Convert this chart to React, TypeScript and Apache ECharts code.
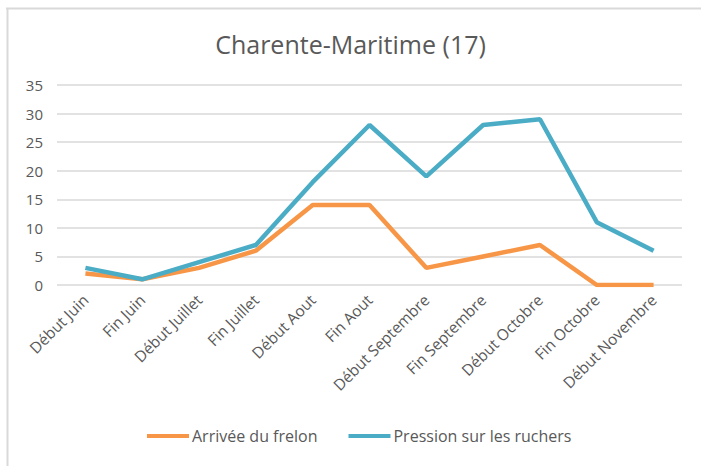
import React, { useEffect, useRef } from "react";
import * as echarts from "echarts";

const categories = [
  "Début Juin",
  "Fin Juin",
  "Début Juillet",
  "Fin Juillet",
  "Début Aout",
  "Fin Aout",
  "Début Septembre",
  "Fin Septembre",
  "Début Octobre",
  "Fin Octobre",
  "Début Novembre",
];
const arriveeFrelon = [2, 1, 3, 6, 14, 14, 3, 5, 7, 0, 0];
const pressionRuchers = [3, 1, 4, 7, 18, 28, 19, 28, 29, 11, 6];
const seriesNames = ["Arrivée du frelon", "Pression sur les ruchers"];
const titleText = "Charente-Maritime (17)";

const FONT = "'Open Sans', 'Noto Sans', sans-serif";

export default function App() {
  const ref = useRef<HTMLDivElement>(null);
  useEffect(() => {
    if (!ref.current) return;
    const chart = echarts.init(ref.current, null, { renderer: "svg" });
    chart.setOption({
      animation: false,
      backgroundColor: "#ffffff",
      title: {
        text: titleText,
        left: "center",
        top: 26,
        textStyle: {
          fontFamily: FONT,
          fontSize: 25,
          fontWeight: "normal",
          color: "#595959",
        },
      },
      legend: {
        bottom: 17,
        left: 142,
        icon: "rect",
        itemWidth: 42,
        itemHeight: 4,
        itemGap: 31,
        textStyle: { fontFamily: FONT, fontSize: 16, color: "#595959", padding: [0, 0, 0, -2] },
        data: seriesNames,
      },
      grid: { left: 57, right: 19, top: 85, height: 200, containLabel: false },
      xAxis: {
        type: "category",
        data: categories,
        boundaryGap: true,
        axisLine: { show: false },
        axisTick: { show: false },
        axisLabel: {
          rotate: 45,
          interval: 0,
          margin: 12,
          fontFamily: FONT,
          fontSize: 15.5,
          color: "#595959",
        },
      },
      yAxis: {
        type: "value",
        min: 0,
        max: 35,
        interval: 5,
        axisLine: { show: false },
        axisTick: { show: false },
        axisLabel: { margin: 14, fontFamily: FONT, fontSize: 15, color: "#595959" },
        splitLine: { lineStyle: { color: "#d9d9d9", width: 1.5 } },
      },
      series: [
        {
          name: seriesNames[0],
          type: "line",
          data: arriveeFrelon,
          showSymbol: false,
          symbol: "none",
          lineStyle: { width: 4.5, color: "#F79646" },
          itemStyle: { color: "#F79646" },
        },
        {
          name: seriesNames[1],
          type: "line",
          data: pressionRuchers,
          showSymbol: false,
          symbol: "none",
          lineStyle: { width: 4.5, color: "#4BACC6" },
          itemStyle: { color: "#4BACC6" },
        },
      ],
      graphic: [
        {
          type: "line",
          shape: { x1: 6, y1: 8.5, x2: 701, y2: 8.5 },
          style: { stroke: "#d9d9d9", lineWidth: 2 },
        },
        {
          type: "line",
          shape: { x1: 7.5, y1: 8, x2: 7.5, y2: 466 },
          style: { stroke: "#d9d9d9", lineWidth: 2 },
        },
      ],
    });
    return () => chart.dispose();
  }, []);
  return (
    <div
      ref={ref}
      style={{ position: "fixed", left: 0, top: 0, width: 701, height: 466 }}
    />
  );
}
